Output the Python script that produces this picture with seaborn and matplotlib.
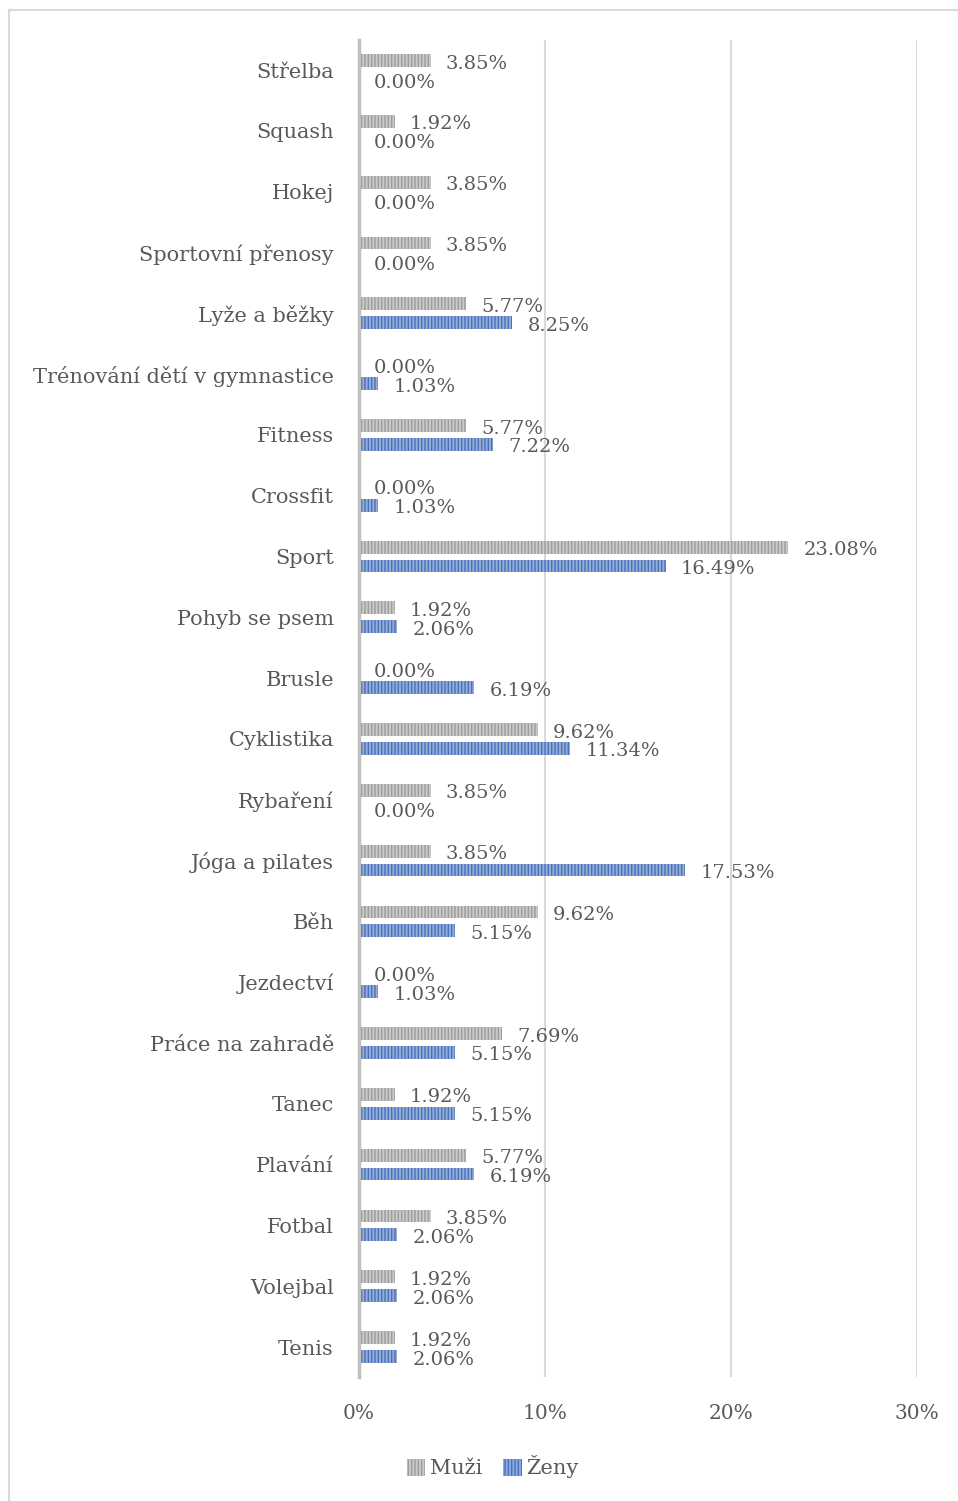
import pandas as pd
import seaborn as sns
import matplotlib.pyplot as plt
from matplotlib.patches import Patch, Rectangle
from matplotlib.ticker import FuncFormatter

kategorie = ['Střelba', 'Squash', 'Hokej', 'Sportovní přenosy', 'Lyže a běžky',
             'Trénování dětí v gymnastice', 'Fitness', 'Crossfit', 'Sport',
             'Pohyb se psem', 'Brusle', 'Cyklistika', 'Rybaření', 'Jóga a pilates',
             'Běh', 'Jezdectví', 'Práce na zahradě', 'Tanec', 'Plavání', 'Fotbal',
             'Volejbal', 'Tenis']
muzi = [3.85, 1.92, 3.85, 3.85, 5.77, 0.00, 5.77, 0.00, 23.08, 1.92, 0.00,
        9.62, 3.85, 3.85, 9.62, 0.00, 7.69, 1.92, 5.77, 3.85, 1.92, 1.92]
zeny = [0.00, 0.00, 0.00, 0.00, 8.25, 1.03, 7.22, 1.03, 16.49, 2.06, 6.19,
        11.34, 0.00, 17.53, 5.15, 1.03, 5.15, 5.15, 6.19, 2.06, 2.06, 2.06]
skupiny = ['Muži', 'Ženy']

df = pd.concat([
    pd.DataFrame({'aktivita': kategorie, 'podil': muzi, 'pohlavi': 'Muži'}),
    pd.DataFrame({'aktivita': kategorie, 'podil': zeny, 'pohlavi': 'Ženy'}),
])

sns.set_style('white')
plt.rcParams['font.family'] = ['DejaVu Serif']
plt.rcParams['hatch.linewidth'] = 1.0

fill = {'Muži': '#cacaca', 'Ženy': '#8eaadb'}
stripe = {'Muži': '#9c9c9c', 'Ženy': '#4472c4'}
txt = '#595959'

fig = plt.figure(figsize=(9.58, 15.01), dpi=100)
ax = fig.add_axes([0.3747, 0.0823, 0.5825, 0.8913])

sns.barplot(data=df, y='aktivita', x='podil', hue='pohlavi', order=kategorie,
            hue_order=skupiny, palette=fill, orient='h', errorbar=None,
            width=0.62, gap=0.32, legend=False, ax=ax)

for cont, g in zip(ax.containers, skupiny):
    for bar in cont:
        bar.set_hatch('|||||')
        bar.set_edgecolor(stripe[g])
        bar.set_linewidth(0)
    vals = muzi if g == 'Muži' else zeny
    anns = ax.bar_label(cont, labels=[f'{v:.2f}%' for v in vals], padding=11,
                        fontsize=14, color=txt)
    for a in anns:
        a.xyann = (11, -2.2)

ax.set_xlim(0, 30)
ax.set_xticks([0, 10, 20, 30])
ax.xaxis.set_major_formatter(FuncFormatter(lambda v, p: f'{v:.0f}%'))
ax.grid(axis='x', color='#d9d9d9', linewidth=1.5)
ax.set_axisbelow(True)
for s in ['top', 'right', 'bottom']:
    ax.spines[s].set_visible(False)
ax.spines['left'].set_color('#bfbfbf')
ax.spines['left'].set_linewidth(2.5)
ax.tick_params(axis='both', length=0, colors=txt)
ax.tick_params(axis='y', pad=18, labelsize=15)
ax.tick_params(axis='x', pad=19, labelsize=14.5)
ax.set_xlabel('')
ax.set_ylabel('')

handles = [Patch(facecolor=fill[g], edgecolor=stripe[g], hatch='|||||',
                 linewidth=0, label=g) for g in skupiny]
fig.legend(handles=handles, loc='center', bbox_to_anchor=(0.514, 0.0227), ncol=2,
           frameon=False, fontsize=15, labelcolor=txt, handlelength=0.9,
           handleheight=0.9, handletextpad=0.2, columnspacing=1.0)

fig.patches.append(Rectangle((8.5 / 958, -0.1), 1.2, 1 - 10.5 / 1501 + 0.1,
                             transform=fig.transFigure, fill=False,
                             edgecolor='#d9d9d9', linewidth=1.5))

fig.savefig('out.png', dpi=100)
